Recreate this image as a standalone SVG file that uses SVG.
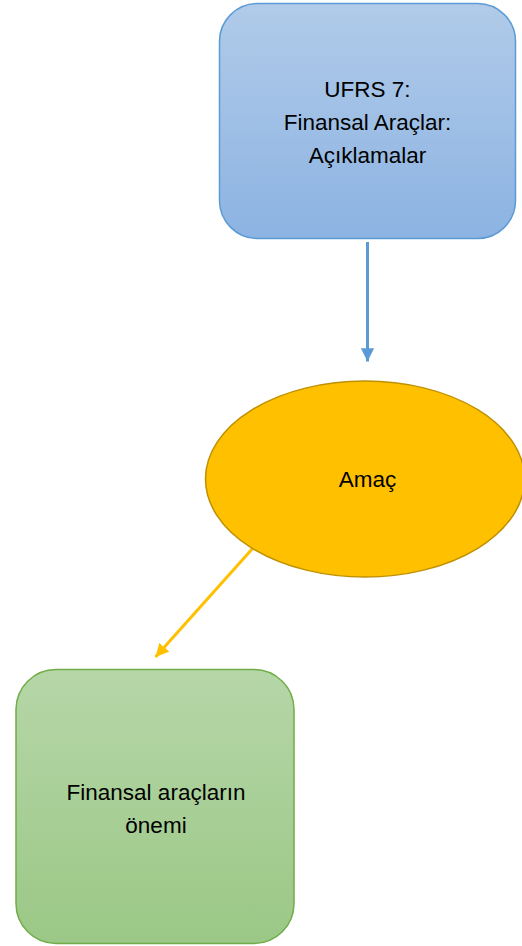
<svg xmlns="http://www.w3.org/2000/svg" width="522" height="946" viewBox="0 0 522 946">
  <style>
    .lbl { font-family: "Liberation Sans", Arial, sans-serif; font-size: 22.5px; fill: #000; text-anchor: middle; }
  </style>
  <defs>
    <linearGradient id="gBlue" x1="0" y1="0" x2="0" y2="1">
      <stop offset="0" stop-color="#b1cbe9"/>
      <stop offset="1" stop-color="#8cb3e2"/>
    </linearGradient>
    <linearGradient id="gGreen" x1="0" y1="0" x2="0" y2="1">
      <stop offset="0" stop-color="#b6d6a8"/>
      <stop offset="1" stop-color="#9bc886"/>
    </linearGradient>
    <marker id="arrBlue" viewBox="0 0 10 10" refX="10" refY="5" markerWidth="4.4" markerHeight="4.4" markerUnits="strokeWidth" orient="auto">
      <path d="M0,0 L10,5 L0,10 Z" fill="#5b9bd5"/>
    </marker>
    <marker id="arrYellow" viewBox="0 0 10 10" refX="10" refY="5" markerWidth="4.4" markerHeight="4.4" markerUnits="strokeWidth" orient="auto">
      <path d="M0,0 L10,5 L0,10 Z" fill="#ffc000"/>
    </marker>
  </defs>

  <g id="connectors">
    <line x1="367.5" y1="242" x2="367.5" y2="361.5" stroke="#5b9bd5" stroke-width="3" marker-end="url(#arrBlue)"/>
    <line x1="253" y1="548" x2="155.5" y2="657" stroke="#ffc000" stroke-width="3" marker-end="url(#arrYellow)"/>
  </g>

  <g id="node-ufrs7">
    <rect x="219.5" y="3.5" width="296" height="235" rx="38" ry="38" fill="url(#gBlue)" stroke="#5b9bd5" stroke-width="1.5"/>
    <text class="lbl" x="367.5" y="96.5">UFRS 7:</text>
    <text class="lbl" x="367.5" y="130">Finansal Araçlar:</text>
    <text class="lbl" x="367.5" y="163">Açıklamalar</text>
  </g>

  <g id="node-amac">
    <ellipse cx="365" cy="479" rx="159.5" ry="98" fill="#ffc000" stroke="#bf9000" stroke-width="1.5"/>
    <text class="lbl" x="367.5" y="486.5">Amaç</text>
  </g>

  <g id="node-onem">
    <rect x="16" y="669.5" width="278" height="274" rx="40" ry="40" fill="url(#gGreen)" stroke="#70ad47" stroke-width="1.5"/>
    <text class="lbl" x="156" y="799.5">Finansal araçların</text>
    <text class="lbl" x="156" y="833">önemi</text>
  </g>
</svg>
